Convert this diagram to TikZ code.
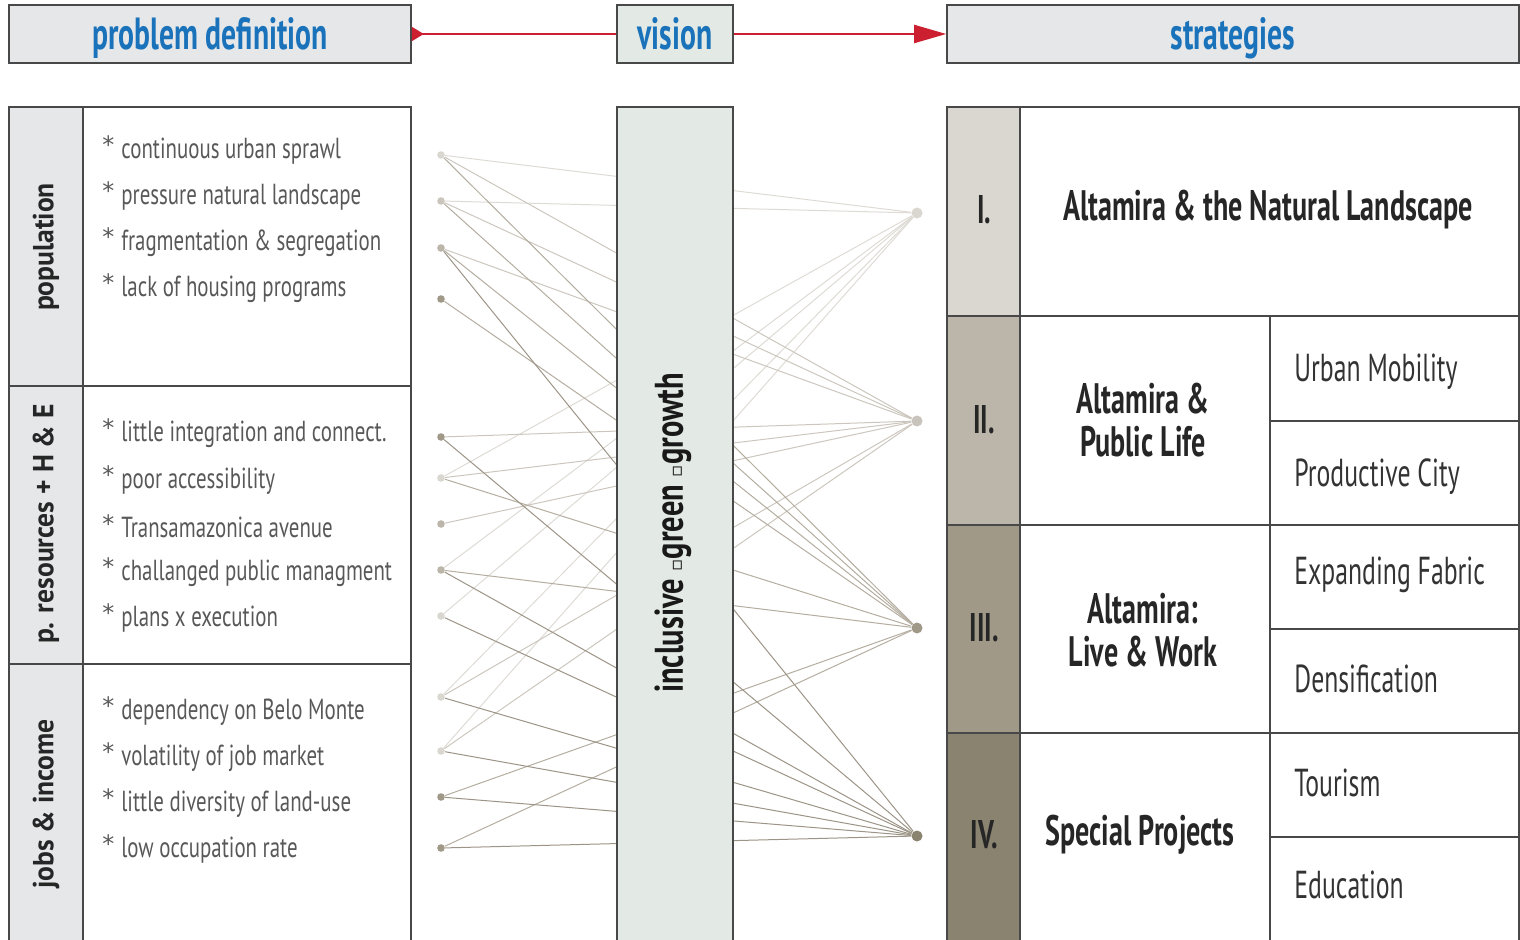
\documentclass[tikz,border=0pt]{standalone}
\usepackage{fontspec}
\setmainfont{PT Sans}[FakeStretch=0.66]
\newfontfamily\bulletfont{PT Sans}[FakeStretch=0.72]
\newfontfamily\catfont{PT Sans}[FakeStretch=0.95]
\newfontfamily\visfont{PT Sans}[FakeStretch=0.76]
\newfontfamily\symfont{DejaVu Sans}
\usetikzlibrary{arrows.meta, positioning}

\definecolor{framegray}{RGB}{72,72,72}
\definecolor{headfill}{RGB}{229,231,233}
\definecolor{visfill}{RGB}{227,233,229}
\definecolor{catfill}{RGB}{230,231,232}
\definecolor{headblue}{RGB}{26,115,186}
\definecolor{arrowred}{RGB}{204,32,48}
\definecolor{bulletgray}{RGB}{88,88,88}
\definecolor{strI}{RGB}{218,215,208}
\definecolor{strII}{RGB}{187,181,170}
\definecolor{strIII}{RGB}{160,153,136}
\definecolor{strIV}{RGB}{137,131,112}
\definecolor{lnI}{RGB}{222,219,213}
\definecolor{lnII}{RGB}{204,199,190}
\definecolor{lnIII}{RGB}{180,173,160}
\definecolor{lnIV}{RGB}{156,148,134}

\tikzset{
  headbox/.style={draw=framegray, line width=0.8pt, fill=headfill, minimum height=29pt, inner sep=0pt,
    text depth=0pt, text=headblue, font=\bfseries\fontsize{22.5}{22.5}\selectfont},
  tabline/.style={draw=framegray, line width=0.8pt},
  catlabel/.style={rotate=90, text=black!85, font=\catfont\bfseries\fontsize{14.5}{14.5}\selectfont},
  problem/.style={anchor=west, inner sep=0pt, text=bulletgray, font=\bulletfont\fontsize{14.5}{14.5}\selectfont},
  pdot/.style={circle, inner sep=0pt, minimum size=3.8pt},
  sdot/.style={circle, inner sep=0pt, minimum size=5.5pt},
  link/.style={line width=0.5pt},
  roman/.style={text=black!85, font=\bfseries\fontsize{20}{20}\selectfont},
  strat/.style={align=center, text=black!85, font=\bfseries\fontsize{21.3}{21.5}\selectfont},
  substrat/.style={anchor=west, inner sep=0pt, text=black!80, font=\fontsize{19.5}{19.5}\selectfont}
}

\begin{document}
\begin{tikzpicture}[x=0.5pt, y=-0.5pt]
\useasboundingbox (0,0) rectangle (1520,940);
\clip (0,0) rectangle (1520,940);

% header row
\node[headbox, minimum width=201pt] (probdef) at (210,34) {problem definition};
\node[headbox, minimum width=286pt] (strats) at (1233,34) {strategies};
\draw[arrowred, line width=1pt, {Triangle[reversed, length=6pt, width=7pt]}-{Triangle[length=16pt, width=9pt]}] (probdef.east) -- (strats.west);
\node[headbox, fill=visfill, minimum width=58pt] (vis) at (675,34) {vision};

% problem definition table
\fill[catfill] (9,107) rectangle (83,960);
\draw[tabline] (9,107) rectangle (411,960);
\draw[tabline] (83,107) -- (83,960);
\draw[tabline] (9,386) -- (411,386);
\draw[tabline] (9,664) -- (411,664);

\node[catlabel] (population) at (46,247) {population};
\node[catlabel] (resources) at (46,524) {p. resources + H \& E};
\node[catlabel] (jobs) at (46,804) {jobs \& income};

\foreach \y/\txt [count=\i] in {150/continuous urban sprawl, 196/pressure natural landscape,
    242/fragmentation \& segregation, 288/lack of housing programs,
    433/little integration and connect., 480/poor accessibility, 526/Transamazonica avenue,
    572/challanged public managment, 618/plans x execution,
    711/dependency on Belo Monte, 757/volatility of job market,
    803/little diversity of land-use, 849/low occupation rate}
  \node[problem] (b\i) at (102,\y) {\raisebox{2.5pt}{\symfont\fontsize{12}{12}\selectfont *}\hspace{3.5pt}\txt};

% dots
\foreach \y/\c [count=\i] in {155/strI, 201/strI!50!strII, 248/strII, 299/strIII, 437/strIII,
    478/strI, 524/strII, 570/strII, 616/strI, 697/strI, 751/strI, 797/strIII, 848/strIII}
  \node[pdot, fill=\c] (p\i) at (441,\y) {};
\foreach \y/\c [count=\i] in {213/strI, 421/strII!80, 628/strIII, 836/strIV}
  \node[sdot, fill=\c] (s\i) at (917,\y) {};

% links problem -> strategy
\foreach \p in {1,2,6,8,9,10,11} \draw[link, lnI] (p\p) -- (s1);
\foreach \p in {1,2,3,5,6,7,10,11} \draw[link, lnII] (p\p) -- (s2);
\foreach \p in {1,2,3,4,6,8,12,13} \draw[link, lnIII] (p\p) -- (s3);
\foreach \p in {3,5,8,9,10,11,12,13} \draw[link, lnIV] (p\p) -- (s4);

% vision column
\node[draw=framegray, line width=0.8pt, fill=visfill, minimum width=58pt, minimum height=426.5pt, inner sep=0pt] (visbar) at (675,533.5) {};
\node[rotate=90, text=black!90, font=\visfont\bfseries\fontsize{20}{20}\selectfont] (vistext) at (673,533)
  {inclusive {\symfont\fontsize{9}{9}\selectfont ▫}green {\symfont\fontsize{9}{9}\selectfont ▫}growth};

% strategies table
\fill[strI] (947,107) rectangle (1020,316);
\fill[strII] (947,316) rectangle (1020,525);
\fill[strIII] (947,525) rectangle (1020,733);
\fill[strIV] (947,733) rectangle (1020,960);
\draw[tabline] (947,107) rectangle (1519,960);
\draw[tabline] (1020,107) -- (1020,960);
\foreach \y in {316,525,733} \draw[tabline] (947,\y) -- (1519,\y);
\draw[tabline] (1270,316) -- (1270,960);
\foreach \y in {421,629,837} \draw[tabline] (1270,\y) -- (1519,\y);

\foreach \y/\r [count=\i] in {210/I., 420/II., 628/III., 835/IV.}
  \node[roman] (r\i) at (984,\y) {\r};

\node[strat] (natural) at (1268,210) {Altamira \& the Natural Landscape};
\node[strat] (publife) at (1143,420) {Altamira \&\\Public Life};
\node[strat] (livework) at (1143,630) {Altamira:\\Live \& Work};
\node[strat] (special) at (1140,835) {Special Projects};

\foreach \y/\txt [count=\i] in {372/Urban Mobility, 477/Productive City, 575/Expanding Fabric,
    679/Densification, 783/Tourism, 885/Education}
  \node[substrat] (sub\i) at (1294,\y) {\txt};

\end{tikzpicture}
\end{document}
